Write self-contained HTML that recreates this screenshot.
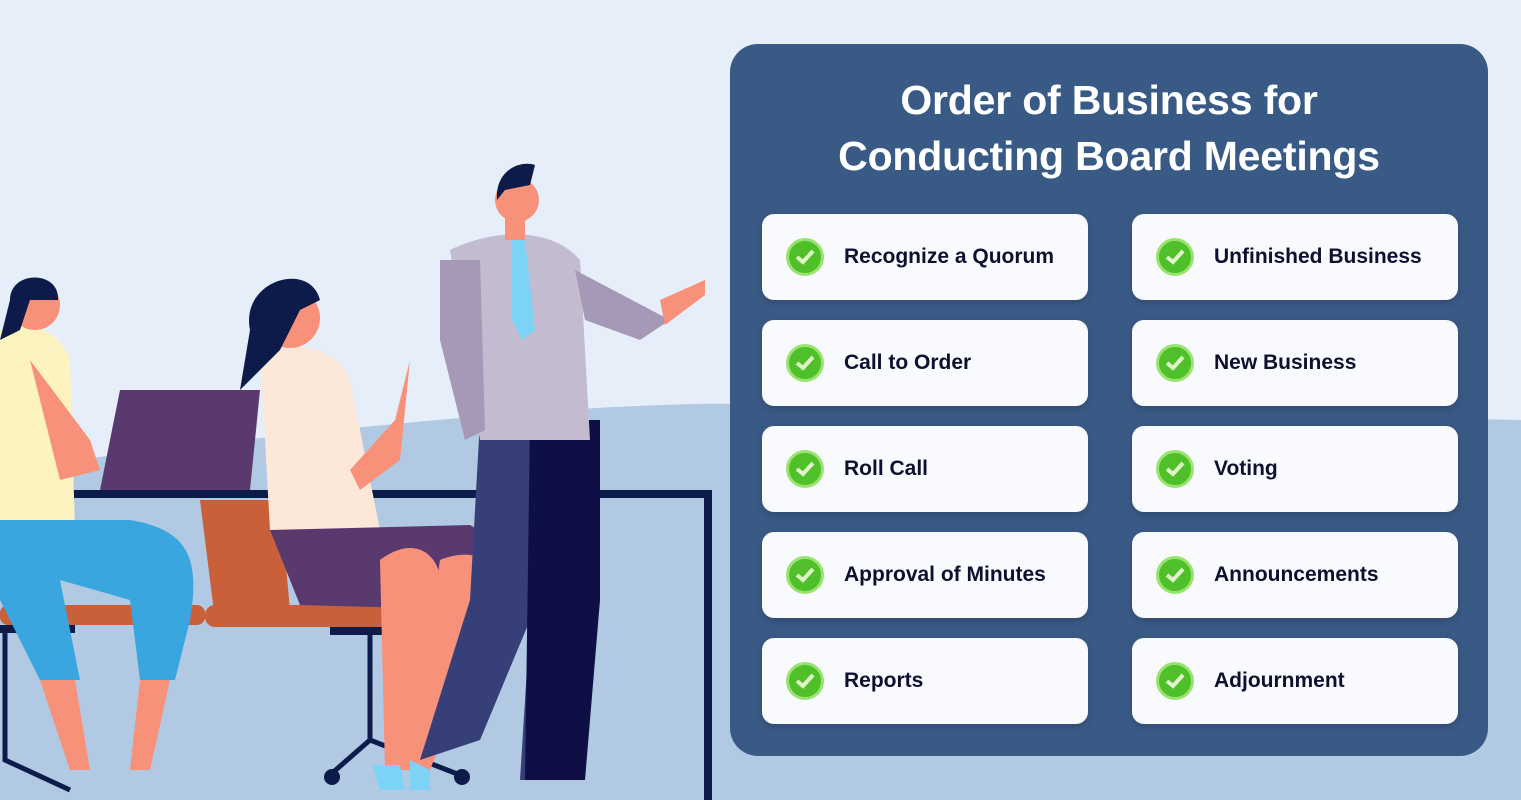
<!DOCTYPE html>
<html><head><meta charset="utf-8"><style>
*{margin:0;padding:0;box-sizing:border-box}
body{width:1521px;height:800px;overflow:hidden;background:#e6eefa;position:relative;font-family:"Liberation Sans",sans-serif}
svg.bg{position:absolute;left:0;top:0}
.panel{position:absolute;left:730px;top:44px;width:758px;height:712px;background:#3a5a86;border-radius:28px}
.title{position:absolute;left:730px;top:72px;width:758px;text-align:center;color:#fff;font-weight:bold;font-size:41px;line-height:56px;letter-spacing:-0.2px}
.card{position:absolute;width:326px;height:86px;background:#f8fafd;border-radius:12px;box-shadow:0 3px 8px rgba(0,0,0,.18)}
.card .ic{position:absolute;left:24px;top:24px;width:38px;height:38px;border-radius:50%;background:#4fbf2a;border:3px solid #9be36f}
.card .ic svg{position:absolute;left:6px;top:7px}
.card span{position:absolute;left:82px;top:0;line-height:86px;font-weight:bold;font-size:21px;color:#0f1030}
</style></head><body>
<svg class="bg" width="1521" height="800" viewBox="0 0 1521 800">
<path d="M0 470 C300 430 600 400 760 404 L1521 420 L1521 800 L0 800Z" fill="#b1c9e3"/>
<rect x="0" y="490" width="712" height="8" fill="#0d1b4a"/>
<rect x="704" y="490" width="8" height="310" fill="#0d1b4a"/>
<rect x="0" y="605" width="205" height="20" rx="8" fill="#c9603a"/>
<rect x="0" y="625" width="75" height="8" fill="#0d1b4a"/>
<path d="M5 630 L5 760 L70 790" stroke="#0d1b4a" stroke-width="5" fill="none"/>
<path d="M0 330 C30 320 60 330 70 360 L75 530 L0 540Z" fill="#fdf3c0"/>
<path d="M0 520 L130 520 C190 530 200 560 190 620 L175 680 L140 680 L130 600 L60 580 L80 680 L40 680 L0 600Z" fill="#3aa6e0"/>
<path d="M40 680 L70 770 L90 770 L75 680Z M140 680 L130 770 L150 770 L170 680Z" fill="#f8917a"/>
<circle cx="35" cy="305" r="25" fill="#f8917a"/>
<path d="M10 300 C10 270 60 270 58 300 L30 300 L20 330 L0 340Z" fill="#0d1b4a"/>
<path d="M30 360 L90 440 L100 470 L60 480Z" fill="#f8917a"/>
<path d="M120 390 L260 390 L250 490 L100 490Z" fill="#5a3a6e"/>
<path d="M200 500 L280 500 L290 610 L215 620Z" fill="#c9603a"/>
<rect x="205" y="605" width="330" height="22" rx="10" fill="#c9603a"/>
<rect x="330" y="627" width="80" height="8" fill="#0d1b4a"/>
<path d="M370 630 L370 740 L330 775 M370 740 L460 775" stroke="#0d1b4a" stroke-width="5" fill="none"/>
<circle cx="332" cy="777" r="8" fill="#0d1b4a"/><circle cx="462" cy="777" r="8" fill="#0d1b4a"/>
<path d="M260 350 C300 340 340 350 350 380 L380 530 L270 530Z" fill="#fbe8d9"/>
<path d="M270 530 L470 525 C500 540 505 590 480 610 L300 605Z" fill="#5a3a6e"/>
<path d="M380 560 C420 530 450 560 440 610 L410 770 L385 770Z M440 560 C490 540 510 580 490 620 L430 770 L410 770Z" fill="#f8917a"/>
<path d="M372 765 L400 765 L405 790 L380 790Z M410 760 L430 770 L430 790 L410 790Z" fill="#7dd3f5"/>
<circle cx="290" cy="318" r="30" fill="#f8917a"/>
<path d="M250 330 C240 280 310 260 320 300 L300 310 L280 350 L240 390 Z" fill="#0d1b4a"/>
<path d="M350 470 L395 420 L410 360 L400 460 L360 490Z" fill="#f8917a"/>
<path d="M480 420 L600 420 L600 600 L580 780 L520 780 L530 620 L480 740 L420 760 L470 600Z" fill="#363f78"/>
<path d="M530 420 L600 420 L600 600 L585 780 L525 780Z" fill="#0d0f45"/>
<path d="M450 250 C490 230 550 225 580 260 L590 440 L480 440Z" fill="#c3bbd0"/>
<path d="M440 260 L480 260 L485 430 L465 440 L440 340Z" fill="#a699b8"/>
<path d="M575 270 L670 320 L640 340 L585 320Z" fill="#a699b8"/>
<path d="M660 300 L705 280 L705 295 L665 325Z" fill="#f8917a"/>
<path d="M512 240 L525 240 L535 330 L522 340 L512 320Z" fill="#7dd3f5"/>
<circle cx="517" cy="200" r="22" fill="#f8917a"/>
<path d="M497 200 C495 170 520 160 535 165 L530 185 L505 190Z" fill="#0d1b4a"/>
<rect x="505" y="215" width="20" height="25" fill="#f8917a"/>
</svg>
<div class="panel"></div>
<div class="title">Order of Business for<br>Conducting Board Meetings</div>
<div class="card" style="left:762px;top:214px"><div class="ic"><svg width="20" height="18"><path d="M2 9 L8 14 L18 3" stroke="#dff5c8" stroke-width="4" fill="none"/></svg></div><span>Recognize a Quorum</span></div>
<div class="card" style="left:762px;top:320px"><div class="ic"><svg width="20" height="18"><path d="M2 9 L8 14 L18 3" stroke="#dff5c8" stroke-width="4" fill="none"/></svg></div><span>Call to Order</span></div>
<div class="card" style="left:762px;top:426px"><div class="ic"><svg width="20" height="18"><path d="M2 9 L8 14 L18 3" stroke="#dff5c8" stroke-width="4" fill="none"/></svg></div><span>Roll Call</span></div>
<div class="card" style="left:762px;top:532px"><div class="ic"><svg width="20" height="18"><path d="M2 9 L8 14 L18 3" stroke="#dff5c8" stroke-width="4" fill="none"/></svg></div><span>Approval of Minutes</span></div>
<div class="card" style="left:762px;top:638px"><div class="ic"><svg width="20" height="18"><path d="M2 9 L8 14 L18 3" stroke="#dff5c8" stroke-width="4" fill="none"/></svg></div><span>Reports</span></div>
<div class="card" style="left:1132px;top:214px"><div class="ic"><svg width="20" height="18"><path d="M2 9 L8 14 L18 3" stroke="#dff5c8" stroke-width="4" fill="none"/></svg></div><span>Unfinished Business</span></div>
<div class="card" style="left:1132px;top:320px"><div class="ic"><svg width="20" height="18"><path d="M2 9 L8 14 L18 3" stroke="#dff5c8" stroke-width="4" fill="none"/></svg></div><span>New Business</span></div>
<div class="card" style="left:1132px;top:426px"><div class="ic"><svg width="20" height="18"><path d="M2 9 L8 14 L18 3" stroke="#dff5c8" stroke-width="4" fill="none"/></svg></div><span>Voting</span></div>
<div class="card" style="left:1132px;top:532px"><div class="ic"><svg width="20" height="18"><path d="M2 9 L8 14 L18 3" stroke="#dff5c8" stroke-width="4" fill="none"/></svg></div><span>Announcements</span></div>
<div class="card" style="left:1132px;top:638px"><div class="ic"><svg width="20" height="18"><path d="M2 9 L8 14 L18 3" stroke="#dff5c8" stroke-width="4" fill="none"/></svg></div><span>Adjournment</span></div>
</body></html>
